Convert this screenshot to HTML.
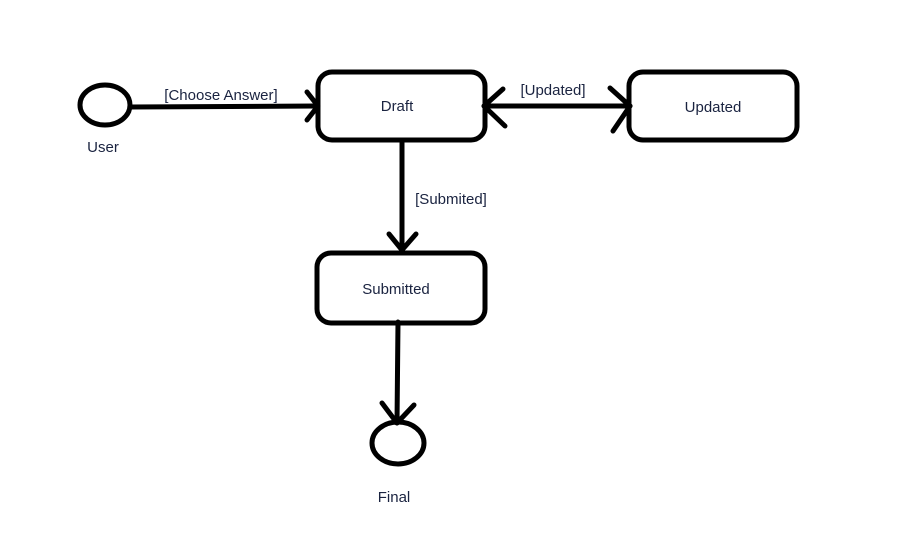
<!DOCTYPE html>
<html><head><meta charset="utf-8"><style>
html,body{margin:0;padding:0;background:#fff;width:900px;height:547px;overflow:hidden}
text{font-family:"Liberation Sans","DejaVu Sans",sans-serif;font-size:15px;fill:#1a2340}
</style></head><body>
<svg width="900" height="547" viewBox="0 0 900 547" xmlns="http://www.w3.org/2000/svg">
<g fill="none" stroke="#000" stroke-width="5" stroke-linecap="round" stroke-linejoin="round">
<ellipse cx="105" cy="105" rx="25" ry="20"/>
<line x1="130" y1="107" x2="317" y2="106"/>
<polyline points="307,92 318,106 307,120"/>
<rect x="318" y="72" width="167" height="68" rx="14"/>
<rect x="629" y="72" width="168" height="68" rx="14"/>
<line x1="484" y1="106" x2="630" y2="106"/>
<polyline points="503,89 484,106 505,126"/>
<polyline points="610,88 630,106 613,131"/>
<line x1="402" y1="140" x2="402" y2="250"/>
<polyline points="389,234 402,250 416,234"/>
<rect x="317" y="253" width="168" height="70" rx="14"/>
<line x1="398" y1="322" x2="397" y2="423"/>
<polyline points="382,403 397,423 414,405"/>
<ellipse cx="398" cy="443" rx="26" ry="21"/>
</g>
<text x="397" y="111" text-anchor="middle">Draft</text>
<text x="713" y="112" text-anchor="middle">Updated</text>
<text x="396" y="294" text-anchor="middle">Submitted</text>
<text x="103" y="152" text-anchor="middle">User</text>
<text x="394" y="502" text-anchor="middle">Final</text>
<text x="221" y="100" text-anchor="middle">[Choose Answer]</text>
<text x="553" y="95" text-anchor="middle">[Updated]</text>
<text x="451" y="204" text-anchor="middle">[Submited]</text>
</svg>
</body></html>
